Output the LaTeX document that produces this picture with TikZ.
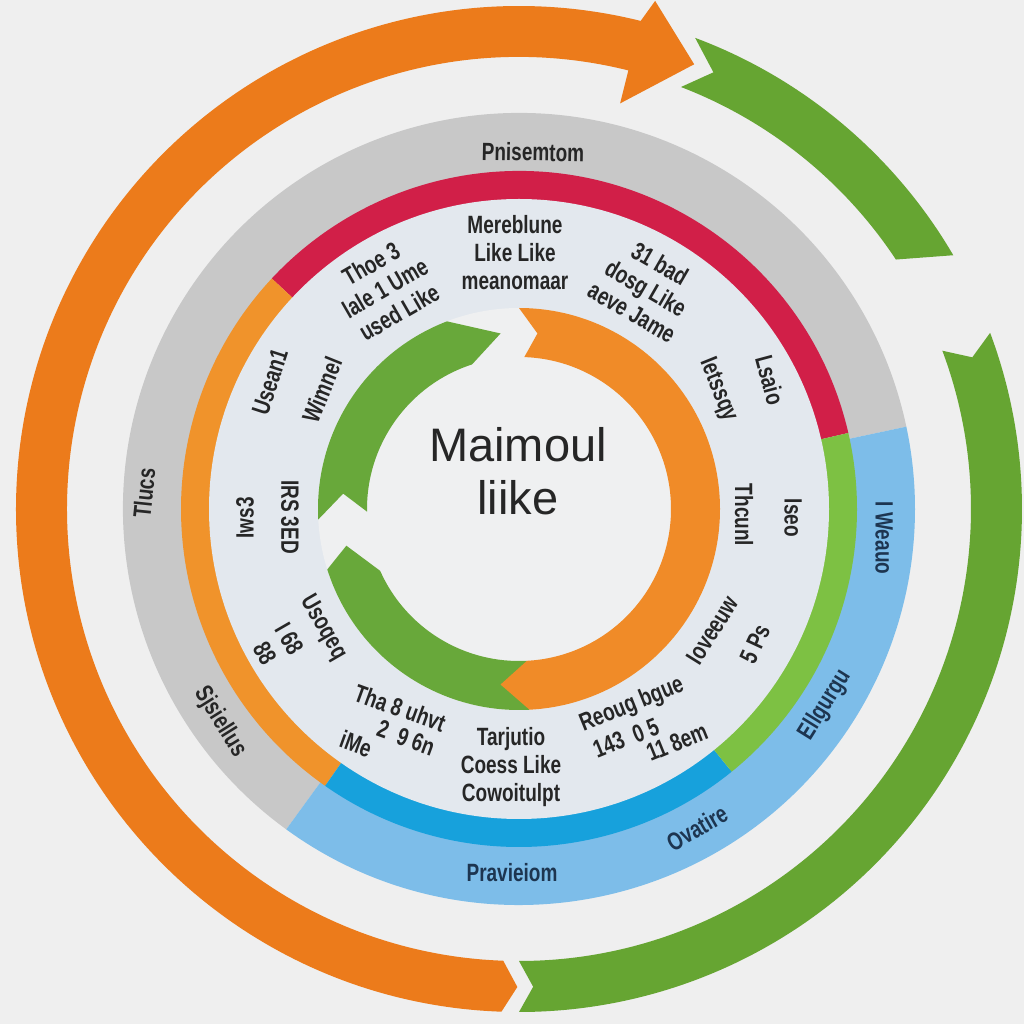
\documentclass[tikz,border=0pt]{standalone}
\usepackage{fontspec}
\setmainfont{Liberation Sans}
\definecolor{bgc}{HTML}{EFEFEF}
\definecolor{discc}{HTML}{E3E8EE}
\definecolor{holec}{HTML}{EFF0F1}
\definecolor{grayband}{HTML}{C8C8C8}
\definecolor{lblue}{HTML}{7DBDE9}
\definecolor{thred}{HTML}{D11F48}
\definecolor{thorange}{HTML}{F0932B}
\definecolor{thblue}{HTML}{17A1DC}
\definecolor{thgreen}{HTML}{7DC143}
\definecolor{oorange}{HTML}{EC7B1B}
\definecolor{ogreen}{HTML}{66A532}
\definecolor{igreenc}{HTML}{68A83A}
\definecolor{iorangec}{HTML}{F08B28}
\definecolor{txt}{HTML}{262626}
\definecolor{navy}{HTML}{1D3550}
\newcommand\annsec[5]{\fill[#1] (#2:#4) arc[start angle=#2, end angle=#3, radius=#4] -- (#3:#5) arc[start angle=#3, end angle=#2, radius=#5] -- cycle;}
\begin{document}
\begin{tikzpicture}[x=0.5pt,y=0.5pt,
  lbl/.style={font=\bfseries\fontsize{12.5}{14}\selectfont, text=txt, align=center, inner sep=0pt},
  rl/.style={lbl, rotate=#1, xscale=0.76},
  brl/.style={rl=#1, text=navy},
  ctr/.style={font=\fontsize{23.5}{26}\selectfont, text=txt, inner sep=0pt, anchor=base}]
\useasboundingbox (0,0) rectangle (1024,1024);
\fill[bgc] (0,0) rectangle (1024,1024);
\begin{scope}[shift={(519,515)}]
  % outer band
  \annsec{grayband}{12}{234}{396}{336}
  \annsec{lblue}{234}{372}{396}{336}
  % thin band
  \annsec{thred}{13}{137}{338}{308}
  \annsec{thorange}{137}{235}{338}{308}
  \annsec{thblue}{235}{309}{338}{308}
  \annsec{thgreen}{309}{373}{338}{308}
  % disc
  \fill[discc] (0,0) circle[radius=310];
  \fill[holec] (0,0) circle[radius=201];
  % inner ring
  \fill[igreenc] (96:176.5) -- (111:201) arc[start angle=111, end angle=183, radius=201] -- (175:176.5) -- (181:152) arc[start angle=181, end angle=108, radius=152] -- cycle;
  \fill[igreenc] (192:176.5) -- (197.5:201) arc[start angle=197.5, end angle=273, radius=201] -- (273:152) arc[start angle=273, end angle=204, radius=152] -- cycle;
  \fill[iorangec] (264:176.5) -- (273:201) arc[start angle=273, end angle=450, radius=201] -- (444:176.5) -- (448:152) arc[start angle=448, end angle=273, radius=152] -- cycle;
  % outer arrows
  \fill[oorange] (268:503) arc[start angle=268, end angle=76, radius=503] -- (75:526) -- (68.5:478) -- (76:418) -- (76:452) arc[start angle=76, end angle=268, radius=452] -- (269.8:478) -- cycle;
  \fill[ogreen] (69.5:503) -- (66:478) -- (69:452) arc[start angle=69, end angle=33.5, radius=452] -- (30.3:503) arc[start angle=30.3, end angle=69.5, radius=503] -- cycle;
  \fill[ogreen] (20.5:503) -- (18.5:478) -- (20.5:452) arc[start angle=20.5, end angle=-90, radius=452] -- (-88.3:478) -- (-90:503) arc[start angle=-90, end angle=20.5, radius=503] -- cycle;
\end{scope}
% centre text
\node[ctr] (c1) at (518,562) {Maimoul};
\node[ctr] (c2) at (518,509) {liike};
% labels
\node[rl=-1] (n1) at (533,872) {Pnisemtom};
\node[rl=0] (n2) at (515,771) {Mereblune\\Like Like\\meanomaar};
\node[rl=30] (n3) at (385,736) {Thoe 3\\lale 1 Ume\\used Like};
\node[rl=-30] (n4) at (646,736) {31 bad\\dosg Like\\aeve Jame};
\node[rl=72] (n5) at (270,642) {Usean1};
\node[rl=68] (n6) at (322,634) {Wimnel};
\node[rl=-68] (n7) at (718,634) {Ietssqy};
\node[rl=-75] (n8) at (770,644) {Lsaio};
\node[rl=84] (n9) at (144,531) {Tlucs};
\node[rl=90] (n10) at (245,506) {Iws3};
\node[rl=-90] (n11) at (290,507) {IRS 3ED};
\node[rl=-60] (n12) at (323,396) {Usoqeq};
\node[rl=-60] (n13) at (277,378) {I 68\\88};
\node[rl=-58] (n14) at (220,302) {Sjsiellus};
\node[rl=-20] (n15) at (400,316) {Tha 8 uhvt};
\node[rl=-20] (n16) at (406,286) {2\ \ 9 6n};
\node[rl=-20] (n17) at (356,280) {iMe};
\node[rl=0] (n18) at (511,257) {Tarjutio\\Coess Like\\Cowoitulpt};
\node[rl=22] (n19) at (632,319) {Reoug bgue};
\node[rl=22] (n20) at (626,286) {143\ \ 0 5};
\node[rl=22] (n21) at (677,282) {11 8em};
\node[rl=58] (n22) at (712,394) {Ioveeuw};
\node[rl=65] (n23) at (755,380) {5 Ps};
\node[rl=-90] (n24) at (744,509) {Thcunl};
\node[rl=-90] (n25) at (793,506) {Iseo};
\node[brl=-90] (n26) at (884,486) {I Weauo};
\node[brl=58] (n27) at (825,319) {Ellgurgu};
\node[brl=30] (n28) at (697,196) {Ovatire};
\node[brl=0] (n29) at (512,151) {Pravieiom};
\end{tikzpicture}
\end{document}
